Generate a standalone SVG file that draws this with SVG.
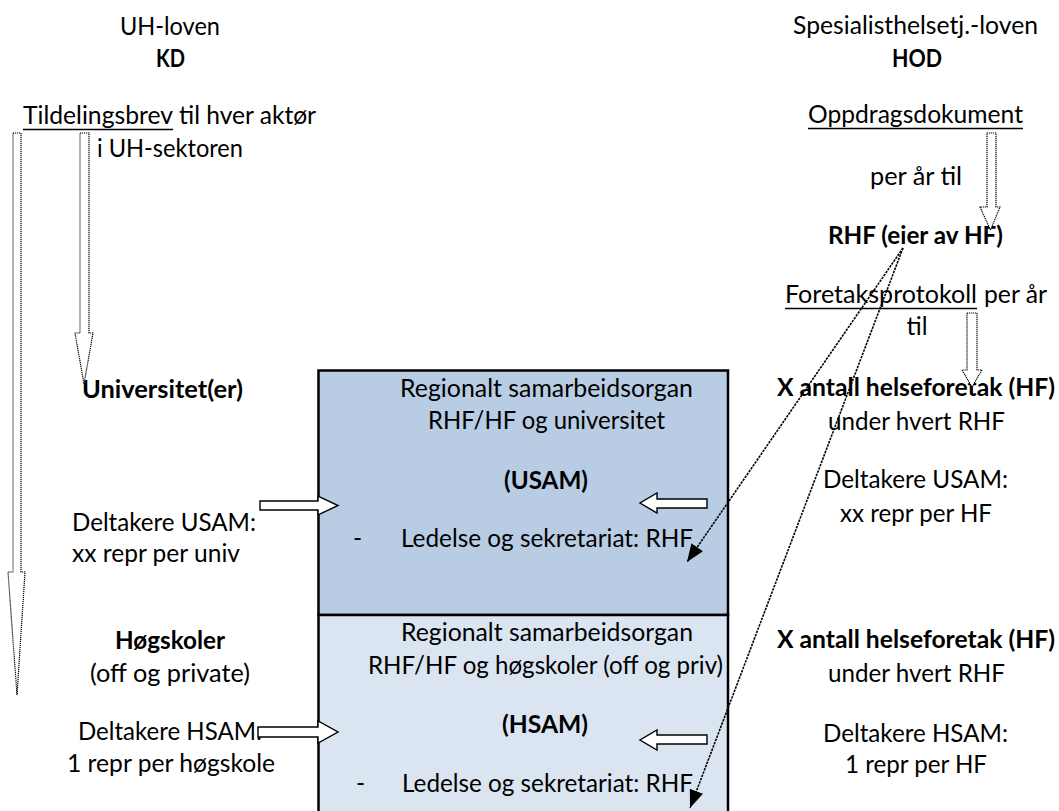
<svg xmlns="http://www.w3.org/2000/svg" width="1059" height="811" viewBox="0 0 1059 811">
<style>
text{font-family:Lato,"Noto Sans","Liberation Sans",sans-serif;font-size:24.5px;fill:#000}
.b{font-weight:bold}
.m{text-anchor:middle}
.e{text-anchor:end}
.ul{stroke:#000;stroke-width:1.6}
.box{stroke:#000;stroke-width:2.5}
.blk{fill:#fff;stroke:#000;stroke-width:1.4;stroke-linejoin:miter}
.dot{fill:#fff;stroke:#000;stroke-width:1.2;stroke-dasharray:1.2,0.8}
.con{fill:none;stroke:#000;stroke-width:1.6;stroke-dasharray:2.5,1}
</style>
<defs>
<marker id="ah" markerUnits="userSpaceOnUse" markerWidth="20" markerHeight="16" refX="18" refY="7" orient="auto">
<path d="M0,0 L18,7 L0,14 Z" fill="#000"/>
</marker>
</defs>
<rect width="1059" height="811" fill="#fff"/>

<g id="box-usam">
<rect class="box" x="318.5" y="370.5" width="409.5" height="244.5" fill="#B8CCE4"/>
<text class="m" x="546.5" y="397" textLength="293" lengthAdjust="spacingAndGlyphs">Regionalt samarbeidsorgan</text>
<text class="m" x="546.5" y="429" textLength="237" lengthAdjust="spacingAndGlyphs">RHF/HF og universitet</text>
<text class="m b" x="546" y="489" textLength="84" lengthAdjust="spacingAndGlyphs">(USAM)</text>
<text x="353" y="547">-</text>
<text x="401" y="547" textLength="292" lengthAdjust="spacingAndGlyphs">Ledelse og sekretariat: RHF</text>
</g>

<g id="box-hsam">
<rect class="box" x="318.5" y="615" width="409.5" height="210" fill="#DBE5F1"/>
<text class="m" x="547" y="641" textLength="292" lengthAdjust="spacingAndGlyphs">Regionalt samarbeidsorgan</text>
<text class="m" x="545.5" y="674" textLength="355" lengthAdjust="spacingAndGlyphs">RHF/HF og høgskoler (off og priv)</text>
<text class="m b" x="545" y="733" textLength="86" lengthAdjust="spacingAndGlyphs">(HSAM)</text>
<text x="356" y="792">-</text>
<text x="402" y="792" textLength="291" lengthAdjust="spacingAndGlyphs">Ledelse og sekretariat: RHF</text>
</g>

<g id="kd">
<text class="m" x="170" y="35" textLength="100" lengthAdjust="spacingAndGlyphs">UH-loven</text>
<text class="m b" x="170.5" y="67" textLength="29" lengthAdjust="spacingAndGlyphs">KD</text>
</g>

<g id="tildelingsbrev">
<text x="23" y="124" textLength="150" lengthAdjust="spacingAndGlyphs">Tildelingsbrev</text>
<line class="ul" x1="23" y1="129.5" x2="173" y2="129.5"/>
<text x="179" y="124" textLength="137" lengthAdjust="spacingAndGlyphs">til hver aktør</text>
<text x="97" y="157" textLength="146" lengthAdjust="spacingAndGlyphs">i UH-sektoren</text>
</g>

<g id="universitet">
<text class="b" x="82" y="398" textLength="161" lengthAdjust="spacingAndGlyphs">Universitet(er)</text>
<text class="e" x="256" y="531" textLength="184" lengthAdjust="spacingAndGlyphs">Deltakere USAM:</text>
<text class="e" x="240" y="562" textLength="168" lengthAdjust="spacingAndGlyphs">xx repr per univ</text>
</g>

<g id="hogskoler">
<text class="m b" x="170" y="649" textLength="110" lengthAdjust="spacingAndGlyphs">Høgskoler</text>
<text class="m" x="170" y="682" textLength="160" lengthAdjust="spacingAndGlyphs">(off og private)</text>
<text class="m" x="170" y="740" textLength="184" lengthAdjust="spacingAndGlyphs">Deltakere HSAM:</text>
<text class="m" x="171" y="772" textLength="208" lengthAdjust="spacingAndGlyphs">1 repr per høgskole</text>
</g>

<g id="hod">
<text class="m" x="915.5" y="34" textLength="245" lengthAdjust="spacingAndGlyphs">Spesialisthelsetj.-loven</text>
<text class="m b" x="917" y="67" textLength="50" lengthAdjust="spacingAndGlyphs">HOD</text>
</g>

<g id="oppdragsdokument">
<text class="m" x="915.5" y="123" textLength="215" lengthAdjust="spacingAndGlyphs">Oppdragsdokument</text>
<line class="ul" x1="808" y1="128.5" x2="1023" y2="128.5"/>
<text class="m" x="916" y="185" textLength="92" lengthAdjust="spacingAndGlyphs">per år til</text>
</g>

<g id="rhf">
<text class="m b" x="915.5" y="244" textLength="175" lengthAdjust="spacingAndGlyphs">RHF (eier av HF)</text>
</g>

<g id="foretaksprotokoll">
<text x="785" y="303" textLength="192" lengthAdjust="spacingAndGlyphs">Foretaksprotokoll</text>
<line class="ul" x1="785" y1="308.5" x2="977" y2="308.5"/>
<text x="984" y="303" textLength="63" lengthAdjust="spacingAndGlyphs">per år</text>
<text class="m" x="917" y="335" textLength="21" lengthAdjust="spacingAndGlyphs">til</text>
</g>

<g id="hf-usam">
<text class="m b" x="916" y="396" textLength="278" lengthAdjust="spacingAndGlyphs">X antall helseforetak (HF)</text>
<text class="m" x="916.5" y="430" textLength="177" lengthAdjust="spacingAndGlyphs">under hvert RHF</text>
<text class="m" x="915.5" y="488" textLength="185" lengthAdjust="spacingAndGlyphs">Deltakere USAM:</text>
<text class="m" x="916" y="522" textLength="152" lengthAdjust="spacingAndGlyphs">xx repr per HF</text>
</g>

<g id="hf-hsam">
<text class="m b" x="916" y="648" textLength="278" lengthAdjust="spacingAndGlyphs">X antall helseforetak (HF)</text>
<text class="m" x="916.5" y="682" textLength="177" lengthAdjust="spacingAndGlyphs">under hvert RHF</text>
<text class="m" x="915.5" y="742" textLength="185" lengthAdjust="spacingAndGlyphs">Deltakere HSAM:</text>
<text class="m" x="916" y="773" textLength="142" lengthAdjust="spacingAndGlyphs">1 repr per HF</text>
</g>

<g id="connectors">
<polygon class="dot" points="13,133 21,133 21,572 25,572 17,695 8,572 13,572"/>
<polygon class="dot" points="80,133 89,133 89,333 93,333 84,384 75,333 80,333"/>
<polygon class="dot" points="987,133 996,133 996,207 1000,207 990.5,230 980,207 987,207"/>
<polygon class="dot" points="967,313 977,313 977,370 982,370 972,387 962,370 967,370"/>
<polygon class="blk" points="260,501 318,501 318,496 338,505.5 318,515 318,510 260,510"/>
<polygon class="blk" points="707,499 657,499 657,493 640,503 657,513 657,508 707,508"/>
<polygon class="blk" points="258,727 318,727 318,721 338,732 318,743 318,737 258,737"/>
<polygon class="blk" points="707,735 657,735 657,730 640,740 657,750 657,744 707,744"/>
<line class="con" x1="903" y1="248" x2="687" y2="562" marker-end="url(#ah)"/>
<line class="con" x1="903" y1="248" x2="690" y2="808" marker-end="url(#ah)"/>
</g>
</svg>
